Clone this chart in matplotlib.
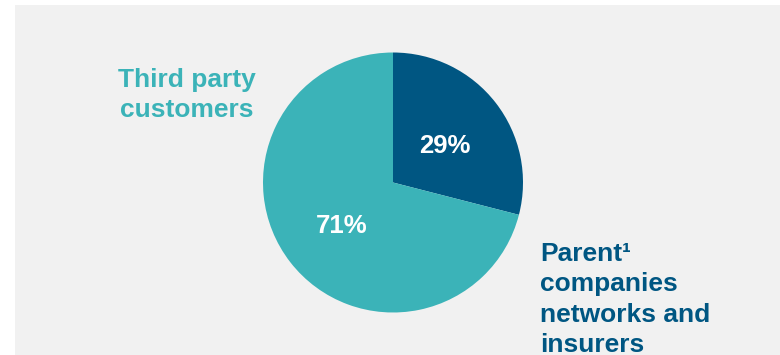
import matplotlib.pyplot as plt
from matplotlib.patches import Rectangle
from matplotlib.transforms import offset_copy

# share of revenue by customer type
labels = ["Parent\u00b9\ncompanies\nnetworks and\ninsurers", "Third party\ncustomers"]
shares = [29, 71]
colors = ["#005682", "#3bb3b8"]

plt.rcParams['font.family'] = ['Liberation Sans', 'DejaVu Sans']

W, H = 780, 355
fig = plt.figure(figsize=(W / 100, H / 100), dpi=100)
fig.patch.set_facecolor("white")

# light grey panel behind the chart
fig.patches.append(Rectangle((15 / W, 0), 1 - 15 / W, 1 - 5 / H,
                             transform=fig.transFigure, facecolor="#f1f1f1",
                             edgecolor="none", zorder=-5))

# square axes for the pie: centre (393, 182.5), radius 130 px
cx, cy, r = 393, 182.5, 130
ax = fig.add_axes([(cx - r) / W, (H - cy - r) / H, 2 * r / W, 2 * r / H])
ax.set_axis_off()

wedges, texts, autotexts = ax.pie(
    shares, colors=colors, startangle=90, counterclock=False,
    autopct="%d%%", pctdistance=0.5, radius=1,
    wedgeprops=dict(linewidth=0),
    textprops=dict(color="white", fontsize=18.5, fontweight="bold"))
ax.set_xlim(-1, 1)
ax.set_ylim(-1, 1)
ax.set_aspect("equal")

# nudge the percentages down a little
for t in autotexts:
    t.set_transform(offset_copy(t.get_transform(), fig=fig, y=-2.5, units="points"))

# va="baseline" on multi-line text anchors the last line
fig.text(187 / W, 1 - 117 / H, labels[1], ha="center", va="baseline",
         fontsize=19, fontweight="bold", color=colors[1], linespacing=1.33,
         multialignment="center")
fig.text(540 / W, 1 - 352 / H, labels[0], ha="left", va="baseline",
         fontsize=19, fontweight="bold", color=colors[0], linespacing=1.33)

fig.savefig("out.png", dpi=100)
